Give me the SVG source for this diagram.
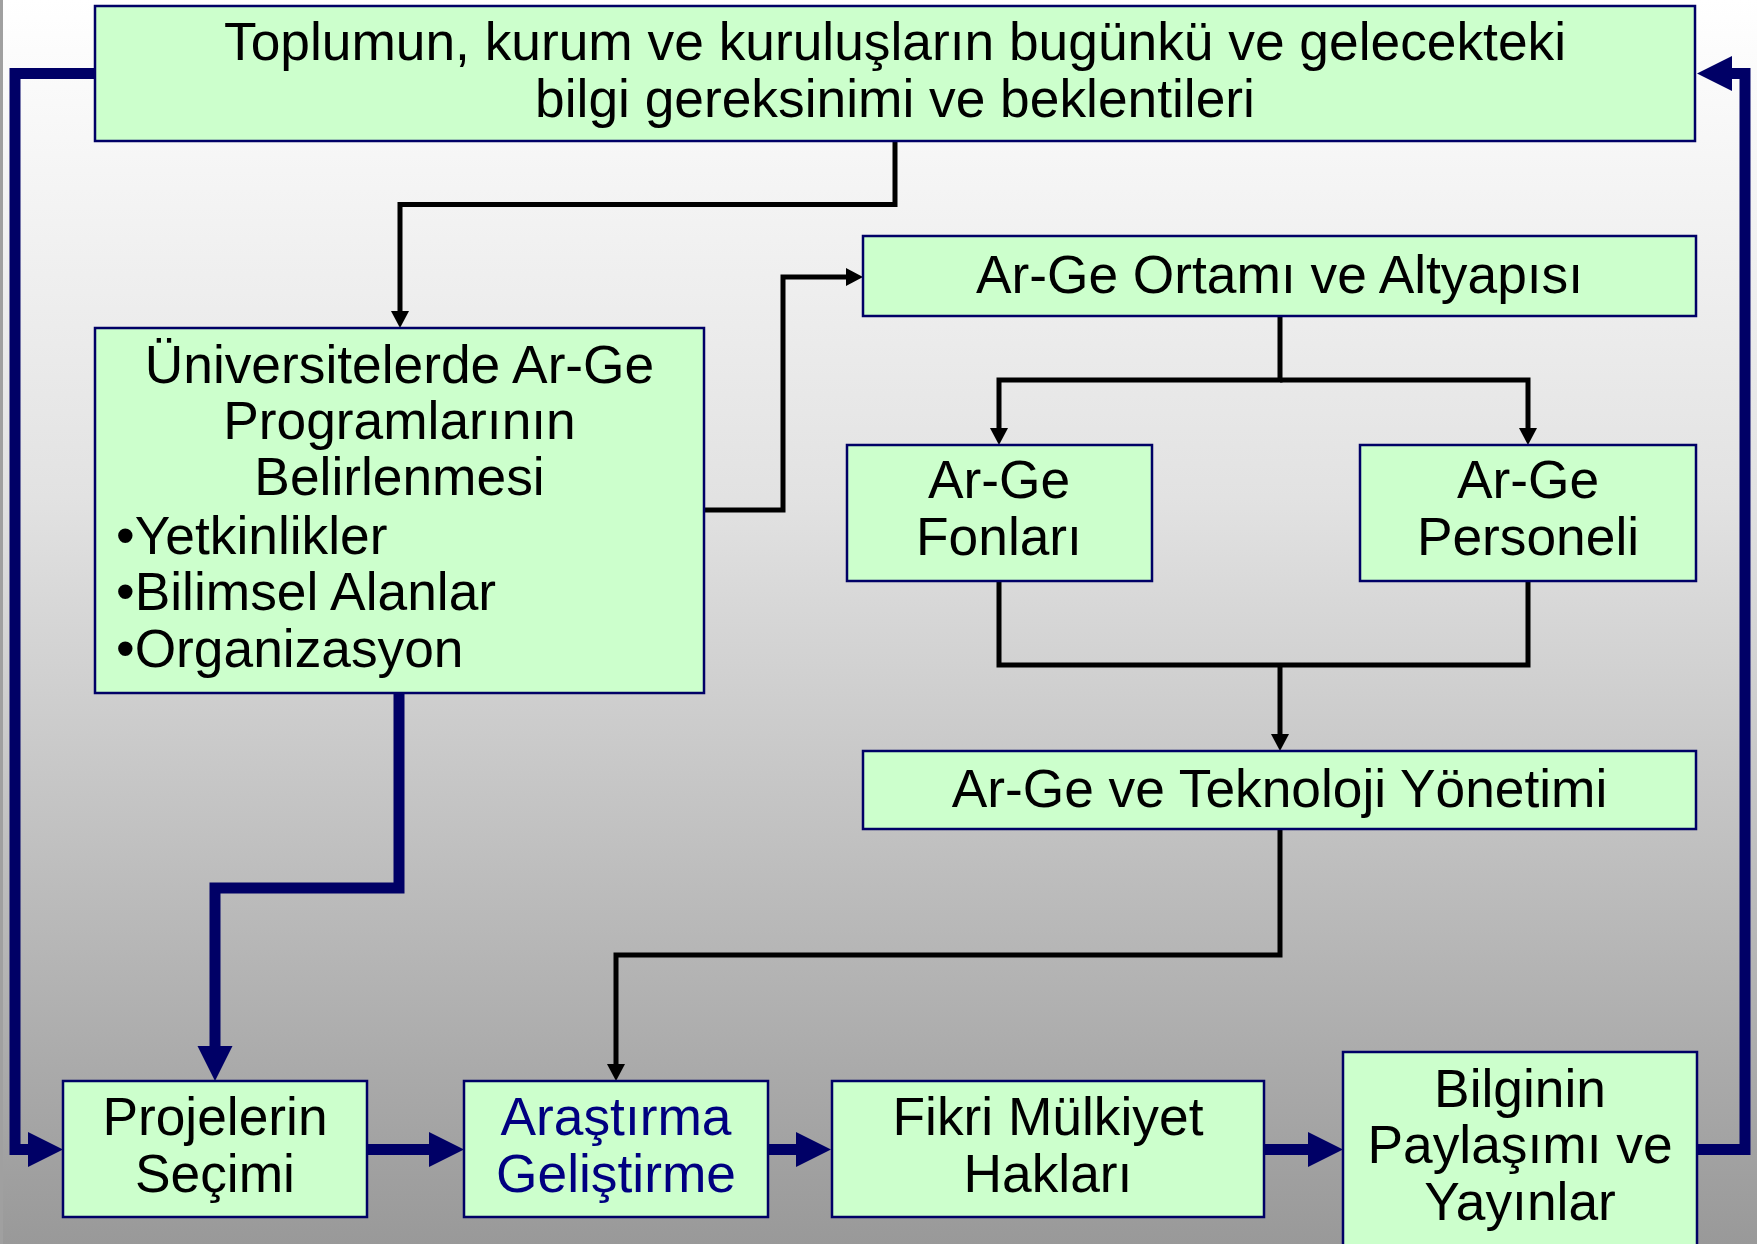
<svg xmlns="http://www.w3.org/2000/svg" width="1757" height="1244" viewBox="0 0 1757 1244">
<defs>
<linearGradient id="bg" x1="0" y1="0" x2="0" y2="1">
<stop offset="0" stop-color="#ffffff"/>
<stop offset="0.4" stop-color="#e2e2e2"/>
<stop offset="1" stop-color="#999999"/>
</linearGradient>
<marker id="ab" markerUnits="userSpaceOnUse" markerWidth="18" markerHeight="18" refX="0" refY="9" orient="auto">
<path d="M0,0 L17,9 L0,18 z" fill="#000"/>
</marker>
<marker id="an" markerUnits="userSpaceOnUse" markerWidth="36" markerHeight="36" refX="0" refY="17.5" orient="auto">
<path d="M0,0 L35,17.5 L0,35 z" fill="#000066"/>
</marker>
</defs>
<style>
.box{fill:#ccffcc;stroke:#000066;stroke-width:2.5}
.t{font-family:"Liberation Sans",Arial,sans-serif;font-size:53.3px;fill:#000}
.c{text-anchor:middle}
.blk{fill:none;stroke:#000;stroke-width:5;stroke-linejoin:miter}
.nav{fill:none;stroke:#000066;stroke-width:11;stroke-linejoin:miter}
</style>
<rect x="0" y="0" width="1757" height="1244" fill="url(#bg)"/>
<rect x="0" y="0" width="3" height="1244" fill="#a0a0a0"/>
<g id="connectors">
<path class="blk" d="M895,141 V204.5 H400 V311" marker-end="url(#ab)"/>
<path class="blk" d="M704,510 H783 V277 H846" marker-end="url(#ab)"/>
<path class="blk" d="M1280,316 V380 H999 V428" marker-end="url(#ab)"/>
<path class="blk" d="M1280,380 H1528 V428" marker-end="url(#ab)"/>
<path class="blk" d="M999,581 V665 H1528 V581"/>
<path class="blk" d="M1280,665 V734" marker-end="url(#ab)"/>
<path class="blk" d="M1280,829 V955 H616 V1064" marker-end="url(#ab)"/>
<path class="nav" d="M95,73.5 H15 V1149.5 H28" marker-end="url(#an)"/>
<path class="nav" d="M399,693 V888 H215 V1046" marker-end="url(#an)"/>
<path class="nav" d="M367,1149.5 H429" marker-end="url(#an)"/>
<path class="nav" d="M768,1149.5 H796" marker-end="url(#an)"/>
<path class="nav" d="M1264,1149.5 H1308" marker-end="url(#an)"/>
<path class="nav" d="M1697,1149.5 H1745 V73.5 H1732" marker-end="url(#an)"/>
</g>
<g id="n-toplum">
<rect class="box" x="95" y="6" width="1600" height="135"/>
<text class="t c" x="895" y="60">Toplumun, kurum ve kuruluşların bugünkü ve gelecekteki</text>
<text class="t c" x="895" y="117">bilgi gereksinimi ve beklentileri</text>
</g>
<g id="n-universite">
<rect class="box" x="95" y="328" width="609" height="365"/>
<text class="t c" x="399.5" y="383">Üniversitelerde Ar-Ge</text>
<text class="t c" x="399.5" y="439">Programlarının</text>
<text class="t c" x="399.5" y="495">Belirlenmesi</text>
<text class="t" x="116" y="554">•Yetkinlikler</text>
<text class="t" x="116" y="610">•Bilimsel Alanlar</text>
<text class="t" x="116" y="667">•Organizasyon</text>
</g>
<g id="n-ortam">
<rect class="box" x="863" y="236" width="833" height="80"/>
<text class="t c" x="1279.5" y="293">Ar-Ge Ortamı ve Altyapısı</text>
</g>
<g id="n-fon">
<rect class="box" x="847" y="445" width="305" height="136"/>
<text class="t c" x="999" y="498">Ar-Ge</text>
<text class="t c" x="999" y="555">Fonları</text>
</g>
<g id="n-personel">
<rect class="box" x="1360" y="445" width="336" height="136"/>
<text class="t c" x="1528" y="498">Ar-Ge</text>
<text class="t c" x="1528" y="555">Personeli</text>
</g>
<g id="n-yonetim">
<rect class="box" x="863" y="751" width="833" height="78"/>
<text class="t c" x="1279.5" y="807">Ar-Ge ve Teknoloji Yönetimi</text>
</g>
<g id="n-proje">
<rect class="box" x="63" y="1081" width="304" height="136"/>
<text class="t c" x="215" y="1135">Projelerin</text>
<text class="t c" x="215" y="1192">Seçimi</text>
</g>
<g id="n-arastirma">
<rect class="box" x="464" y="1081" width="304" height="136"/>
<text class="t c" x="616" y="1135" style="fill:#000080">Araştırma</text>
<text class="t c" x="616" y="1192" style="fill:#000080">Geliştirme</text>
</g>
<g id="n-fikri">
<rect class="box" x="832" y="1081" width="432" height="136"/>
<text class="t c" x="1048" y="1135">Fikri Mülkiyet</text>
<text class="t c" x="1048" y="1192">Hakları</text>
</g>
<g id="n-bilgi">
<rect class="box" x="1343" y="1052" width="354" height="200"/>
<text class="t c" x="1520" y="1107">Bilginin</text>
<text class="t c" x="1520" y="1163">Paylaşımı ve</text>
<text class="t c" x="1520" y="1220">Yayınlar</text>
</g>
</svg>
